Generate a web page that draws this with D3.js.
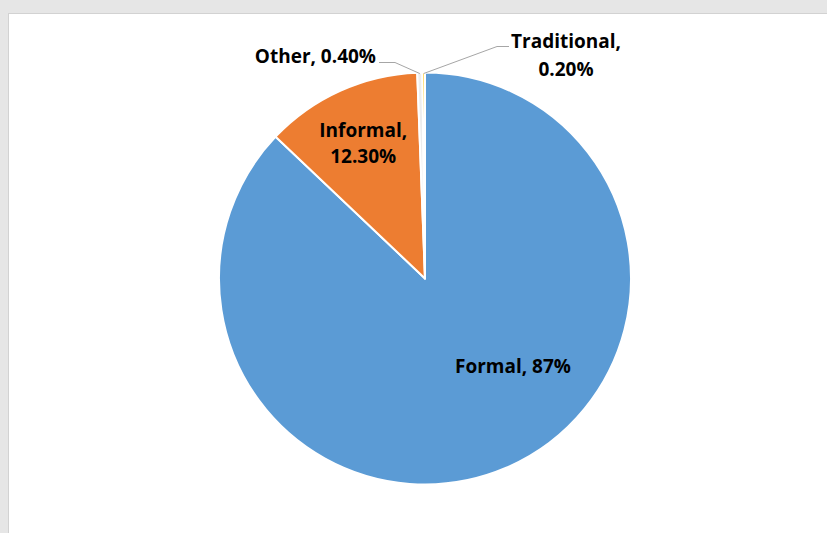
<!DOCTYPE html>
<html>
<head>
<meta charset="utf-8">
<script src="https://cdn.jsdelivr.net/npm/d3@7"></script>
<style>
  html, body { margin: 0; padding: 0; background: #e6e6e6; }
  svg { display: block; }
  text { font-family: "Open Sans", "Noto Sans", sans-serif; font-weight: 700; fill: #000; }
</style>
</head>
<body>
<svg id="chart" width="827" height="533"></svg>
<script>
// Share of sources, in pie order (clockwise from 12 o'clock)
const categories = ["Formal", "Informal", "Other", "Traditional"];
const shares = [87, 12.3, 0.4, 0.2];
const shareLabels = ["87%", "12.30%", "0.40%", "0.20%"];
const colors = ["#5B9BD5", "#ED7D31", "#EDEDED", "#FFC000"];

const W = 827, H = 533;
const svg = d3.select("#chart");

// chart panel
svg.append("rect").attr("x", 8).attr("y", 13).attr("width", W - 8).attr("height", H - 13).attr("fill", "#d2d2d2");
svg.append("rect").attr("x", 9).attr("y", 14).attr("width", W - 9).attr("height", H - 14).attr("fill", "#ffffff");

const cx = 425, cy = 278.5, R = 206;
const g = svg.append("g").attr("transform", `translate(${cx},${cy})`);

const pie = d3.pie().sort(null).value(d => d.v);
const data = categories.map((c, i) => ({ c, v: shares[i], lab: shareLabels[i], col: colors[i] }));
const arcs = pie(data);
const arc = d3.arc().innerRadius(0).outerRadius(R);

g.selectAll("path.slice").data(arcs).join("path")
  .attr("class", "slice")
  .attr("d", arc)
  .attr("fill", d => d.data.col)
  .attr("stroke", "#ffffff")
  .attr("stroke-width", 2)
  .attr("stroke-linejoin", "round");

const fs = 19;
const midPoint = (d, r) => {
  const a = (d.startAngle + d.endAngle) / 2;
  return [r * Math.sin(a), -r * Math.cos(a)];
};

// Formal (inside)
{
  const d = arcs[0];
  g.append("text").attr("x", 88).attr("y", 94.5).attr("text-anchor", "middle")
    .style("font-size", fs + "px").text(`${d.data.c}, ${d.data.lab}`);
}
// Informal (inside, two lines at centroid)
{
  const d = arcs[1];
  const [x, y] = midPoint(d, 150);
  const t = g.append("text").attr("text-anchor", "middle").style("font-size", fs + "px");
  t.append("tspan").attr("x", x).attr("y", y - 5).text(`${d.data.c},`);
  t.append("tspan").attr("x", x).attr("y", y + 21.5).text(d.data.lab);
}
// Other (outside, leader line)
{
  const d = arcs[2];
  const [ex, ey] = midPoint(d, R - 1);
  g.append("polyline")
    .attr("points", [[ex, ey], [-30, -216], [-46, -216]].map(p => p.join(",")).join(" "))
    .attr("fill", "none").attr("stroke", "#a6a6a6").attr("stroke-width", 1);
  g.append("text").attr("x", -49).attr("y", -215.5).attr("text-anchor", "end")
    .style("font-size", fs + "px").text(`${d.data.c}, ${d.data.lab}`);
}
// Traditional (outside, leader line, two lines)
{
  const d = arcs[3];
  const [ex, ey] = midPoint(d, R - 1);
  g.append("polyline")
    .attr("points", [[ex, ey], [72, -232], [84, -232]].map(p => p.join(",")).join(" "))
    .attr("fill", "none").attr("stroke", "#a6a6a6").attr("stroke-width", 1);
  const t = g.append("text").attr("text-anchor", "middle").style("font-size", fs + "px");
  t.append("tspan").attr("x", 141).attr("y", -231).text(`${d.data.c},`);
  t.append("tspan").attr("x", 141).attr("y", -203).text(d.data.lab);
}
</script>
</body>
</html>
